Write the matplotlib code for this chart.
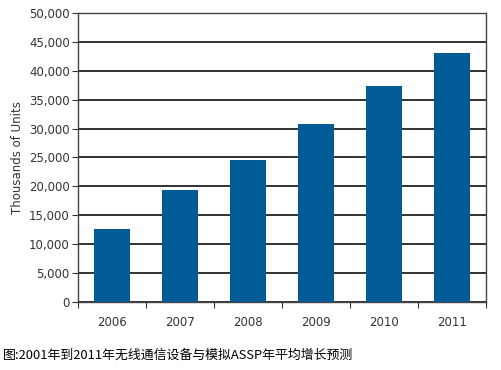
import numpy as np
import matplotlib
matplotlib.use("Agg")
import matplotlib.pyplot as plt
from matplotlib.ticker import FuncFormatter

years = ["2006", "2007", "2008", "2009", "2010", "2011"]
units = [12600, 19300, 24500, 30800, 37400, 43100]

caption = "图:2001年到2011年无线通信设备与模拟ASSP年平均增长预测"

fig = plt.figure(figsize=(5.01, 3.70), dpi=100)
ax = fig.add_axes([0.156, 0.184, 0.814, 0.781])

x = np.arange(len(years))
ax.bar(x, units, width=0.52, color="#005b96", zorder=3)

ax.set_xlim(-0.5, len(years) - 0.5)
ax.set_ylim(0, 50000)
ax.set_yticks(np.arange(0, 50001, 5000))
ax.yaxis.set_major_formatter(FuncFormatter(lambda v, p: f"{int(v):,}"))
ax.yaxis.grid(True, color="#222222", linewidth=1.3, zorder=0)
ax.set_axisbelow(True)

# category boundary ticks on the x axis
ax.set_xticks(np.arange(-0.5, len(years) + 0.5, 1))
ax.set_xticklabels([])
ax.set_xticks(x, minor=True)
ax.set_xticklabels(years, minor=True)
ax.tick_params(axis="x", which="minor", length=0, pad=10, labelsize=8.5, colors="#333333")
ax.tick_params(axis="x", which="major", length=4, direction="out", color="#333333")
ax.tick_params(axis="y", length=4, direction="out", labelsize=8.5, colors="#333333", pad=2)

for s in ax.spines.values():
    s.set_color("#444444")
    s.set_linewidth(1.0)

ax.set_ylabel("Thousands of Units", fontsize=8.5, color="#333333", labelpad=4)

fig.text(0.006, 0.04, caption, fontsize=9.3, family=["Noto Sans CJK SC", "DejaVu Sans"],
         va="center", ha="left")

fig.savefig("out.png", dpi=100)
